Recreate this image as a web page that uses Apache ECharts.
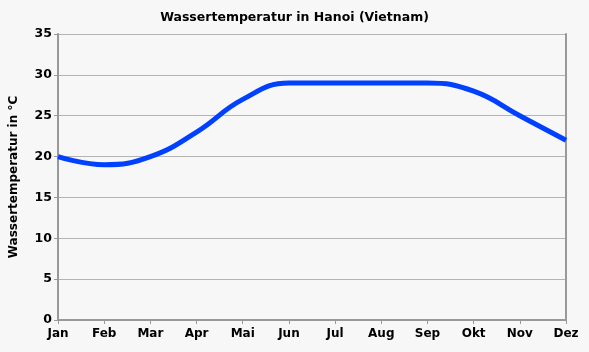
<!DOCTYPE html>
<html>
<head>
<meta charset="utf-8">
<script src="https://cdn.jsdelivr.net/npm/echarts@6/dist/echarts.min.js"></script>
<style>
  html, body { margin: 0; padding: 0; background: #f7f7f7; }
  #chart { width: 589px; height: 352px; }
</style>
</head>
<body>
<div id="chart"></div>
<script>
// Wassertemperatur Hanoi
const months = ["Jan", "Feb", "Mar", "Apr", "Mai", "Jun", "Jul", "Aug", "Sep", "Okt", "Nov", "Dez"];
const waterTemp = [20, 19, 20, 23, 27, 29, 29, 29, 29, 28, 25, 22];

const font = "DejaVu Sans";
const chart = echarts.init(document.getElementById("chart"));

chart.setOption({
  backgroundColor: "#f7f7f7",
  animation: false,
  title: {
    text: "Wassertemperatur in Hanoi (Vietnam)",
    left: "center",
    top: 6,
    textStyle: { fontFamily: font, fontSize: 12.5, fontWeight: "bold", color: "#000" }
  },
  grid: { left: 57, right: 23, top: 34, bottom: 32 },
  xAxis: {
    type: "category",
    data: months,
    boundaryGap: false,
    axisLine: { lineStyle: { color: "#999", width: 2 } },
    axisTick: { lineStyle: { color: "#999" }, length: 4 },
    axisLabel: { fontFamily: font, fontSize: 12, fontWeight: "bold", color: "#000", margin: 8 },
    splitLine: { show: false }
  },
  yAxis: [{
    type: "value",
    min: 0,
    max: 35,
    interval: 5,
    name: "Wassertemperatur in °C",
    nameLocation: "middle",
    nameGap: 38,
    nameTextStyle: { fontFamily: font, fontSize: 12, fontWeight: "bold", color: "#000" },
    axisLine: { show: true, lineStyle: { color: "#999", width: 2 } },
    axisTick: { show: true, lineStyle: { color: "#999" }, length: 4 },
    axisLabel: { fontFamily: font, fontSize: 12.5, fontWeight: "bold", color: "#000", margin: 6 },
    splitLine: { lineStyle: { color: "#b4b4b4", width: 1 } }
  }, {
    type: "value",
    min: 0,
    max: 35,
    interval: 5,
    position: "right",
    axisLine: { show: true, lineStyle: { color: "#999", width: 2 } },
    axisTick: { show: false },
    axisLabel: { show: false },
    splitLine: { show: false }
  }],
  series: [{
    type: "line",
    data: waterTemp,
    smooth: 0.45,
    showSymbol: false,
    lineStyle: { color: "#0040ff", width: 5 }
  }]
});
</script>
</body>
</html>
